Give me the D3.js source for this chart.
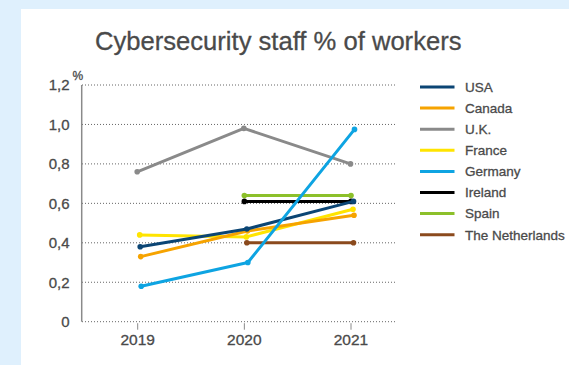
<!DOCTYPE html>
<style>
	body { margin: 0; }
	text { font-family: "Liberation Sans", Arial, sans-serif; fill: #4a4a4a; stroke: #4a4a4a; stroke-width: 0.3px; }
	.grid line { stroke: #666; stroke-width: 1; stroke-dasharray: 1,2; }
	.series { fill: none; stroke-width: 3px; stroke-linejoin: round; stroke-linecap: round; }
</style>
<head>
	<script src="https://d3js.org/d3.v7.min.js"></script>
</head>
<body>
	<svg width="569" height="365"></svg>
</body>
<script>
var years = ["2019", "2020", "2021"];
var yTicks = [0, 0.2, 0.4, 0.6, 0.8, 1.0, 1.2];
var names = ["USA", "Canada", "U.K.", "France", "Germany", "Ireland", "Spain", "The Netherlands"];
var usa         = [0.38, 0.47, 0.61];
var canada      = [0.33, 0.46, 0.54];
var uk          = [0.76, 0.98, 0.80];
var france      = [0.44, 0.43, 0.57];
var germany     = [0.18, 0.30, 0.975];
var ireland     = [null, 0.61, 0.61];
var spain       = [null, 0.64, 0.64];
var netherlands = [null, 0.40, 0.40];

var values = [usa, canada, uk, france, germany, ireland, spain, netherlands];
var colors = ["#0b4574", "#f6a300", "#8a8a8a", "#ffe400", "#0ea4e2", "#000000", "#8cc02a", "#8b4a1d"];
// small horizontal nudge per series, like the original
var nudge = [2.5, 3, -0.5, 2, 3.5, 0, 0, 2.5];
// draw order (Germany on top)
var order = [7, 6, 5, 3, 1, 0, 2, 4];

var svg = d3.select("svg");

svg.append("rect").attr("width", 569).attr("height", 365).attr("fill", "#dff0fd");
svg.append("rect").attr("x", 21).attr("y", 9).attr("width", 548).attr("height", 356).attr("fill", "#fff");

svg.append("text")
	.attr("x", 95).attr("y", 49.5)
	.style("font-size", "25.6px")
	.text("Cybersecurity staff % of workers");

var x = d3.scalePoint().domain(years).range([137.7, 351]);
var y = d3.scaleLinear().domain([0, 1.2]).range([321.7, 85]);

var grid = svg.append("g").attr("class", "grid");
grid.selectAll("line")
	.data(yTicks)
	.enter().append("line")
	.attr("x1", 82).attr("x2", 397)
	.attr("y1", function(d) { return y(d); })
	.attr("y2", function(d) { return y(d); });

svg.append("line")
	.attr("x1", 81.7).attr("x2", 81.7)
	.attr("y1", y(1.2)).attr("y2", y(0))
	.attr("stroke", "#8a8a8a").attr("stroke-width", 1.5);

svg.selectAll(".ylab")
	.data(yTicks)
	.enter().append("text")
	.attr("class", "ylab")
	.attr("x", 69.5)
	.attr("y", function(d) { return y(d); })
	.attr("dy", "0.36em")
	.attr("text-anchor", "end")
	.style("font-size", "15px")
	.text(function(d) { return d === 0 ? "0" : d3.format(".1f")(d).replace(".", ","); });

svg.append("text")
	.attr("x", 72.5).attr("y", 79.5)
	.style("font-size", "12px")
	.text("%");

svg.selectAll(".xtick")
	.data(years)
	.enter().append("line")
	.attr("class", "xtick")
	.attr("x1", function(d) { return x(d); })
	.attr("x2", function(d) { return x(d); })
	.attr("y1", y(0) + 1.5).attr("y2", y(0) + 8)
	.attr("stroke", "#8a8a8a").attr("stroke-width", 1);

svg.selectAll(".xlab")
	.data(years)
	.enter().append("text")
	.attr("class", "xlab")
	.attr("x", function(d) { return x(d); })
	.attr("y", 345)
	.attr("text-anchor", "middle")
	.style("font-size", "15.5px")
	.text(function(d) { return d; });

var line = d3.line()
	.defined(function(d) { return d.v != null; })
	.x(function(d) { return x(d.year) + d.dx; })
	.y(function(d) { return y(d.v); });

order.forEach(function(i) {
	var pts = years.map(function(yr, j) { return { year: yr, v: values[i][j], dx: nudge[i] }; });
	var g = svg.append("g");
	g.append("path")
		.attr("class", "series")
		.attr("stroke", colors[i])
		.attr("d", line(pts));
	g.selectAll("circle")
		.data(pts.filter(function(d) { return d.v != null; }))
		.enter().append("circle")
		.attr("cx", function(d) { return x(d.year) + d.dx; })
		.attr("cy", function(d) { return y(d.v); })
		.attr("r", 2.8)
		.attr("fill", colors[i]);
});

var legend = svg.selectAll(".legend")
	.data(names)
	.enter().append("g")
	.attr("class", "legend")
	.attr("transform", function(d, i) { return "translate(420," + (87 + i * 21.1) + ")"; });

legend.append("line")
	.attr("x1", 0).attr("x2", 34.5)
	.attr("stroke", function(d, i) { return colors[i]; })
	.attr("stroke-width", 3);

legend.append("text")
	.attr("x", 45)
	.attr("dy", "0.36em")
	.style("font-size", "13.5px")
	.text(function(d) { return d; });
</script>
